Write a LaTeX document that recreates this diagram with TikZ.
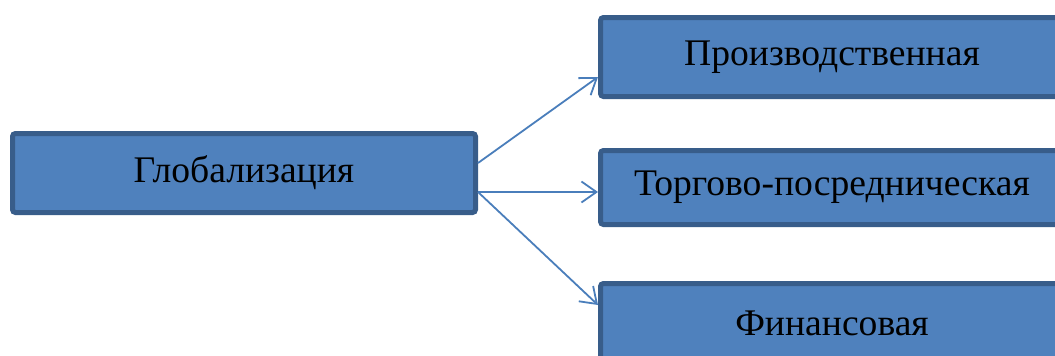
\documentclass[tikz,border=0pt]{standalone}
\usepackage{fontspec}
\setmainfont{Liberation Serif}
\usetikzlibrary{arrows.meta}
\definecolor{boxfill}{HTML}{4F81BD}
\definecolor{boxline}{HTML}{385D8A}
\definecolor{arrowc}{HTML}{4A7EBB}
\begin{document}
\begin{tikzpicture}[x=1pt,y=-1pt,
  box/.style={draw=boxline, fill=boxfill, line width=5pt, rounded corners=3pt,
    inner sep=0pt, minimum width=463pt, font=\fontsize{37.6}{45}\selectfont, text=black},
  conn/.style={draw=arrowc, line width=1.8pt, -{Straight Barb[length=15pt,width=21pt,line width=1.8pt]}}]
\useasboundingbox (0,0) rectangle (1055,356);
\clip (0,0) rectangle (1055,356);
\node[box, minimum height=79pt] (L) at (244,173) {Глобализация};
\node[box, minimum height=79pt] (R1) at (832,57) {Производственная};
\node[box, minimum height=74pt] (R2) at (832,187.5) {Торгово-посредническая};
\node[box, minimum height=79pt] (R3) at (832,323) {Финансовая};
\draw[conn] ([yshift=10pt]L.east) -- ([yshift=-20pt]R1.west);
\draw[conn] ([yshift=-19pt]L.east) -- ([yshift=-4.5pt]R2.west);
\draw[conn] ([yshift=-19pt]L.east) -- ([yshift=18pt]R3.west);
\end{tikzpicture}
\end{document}
